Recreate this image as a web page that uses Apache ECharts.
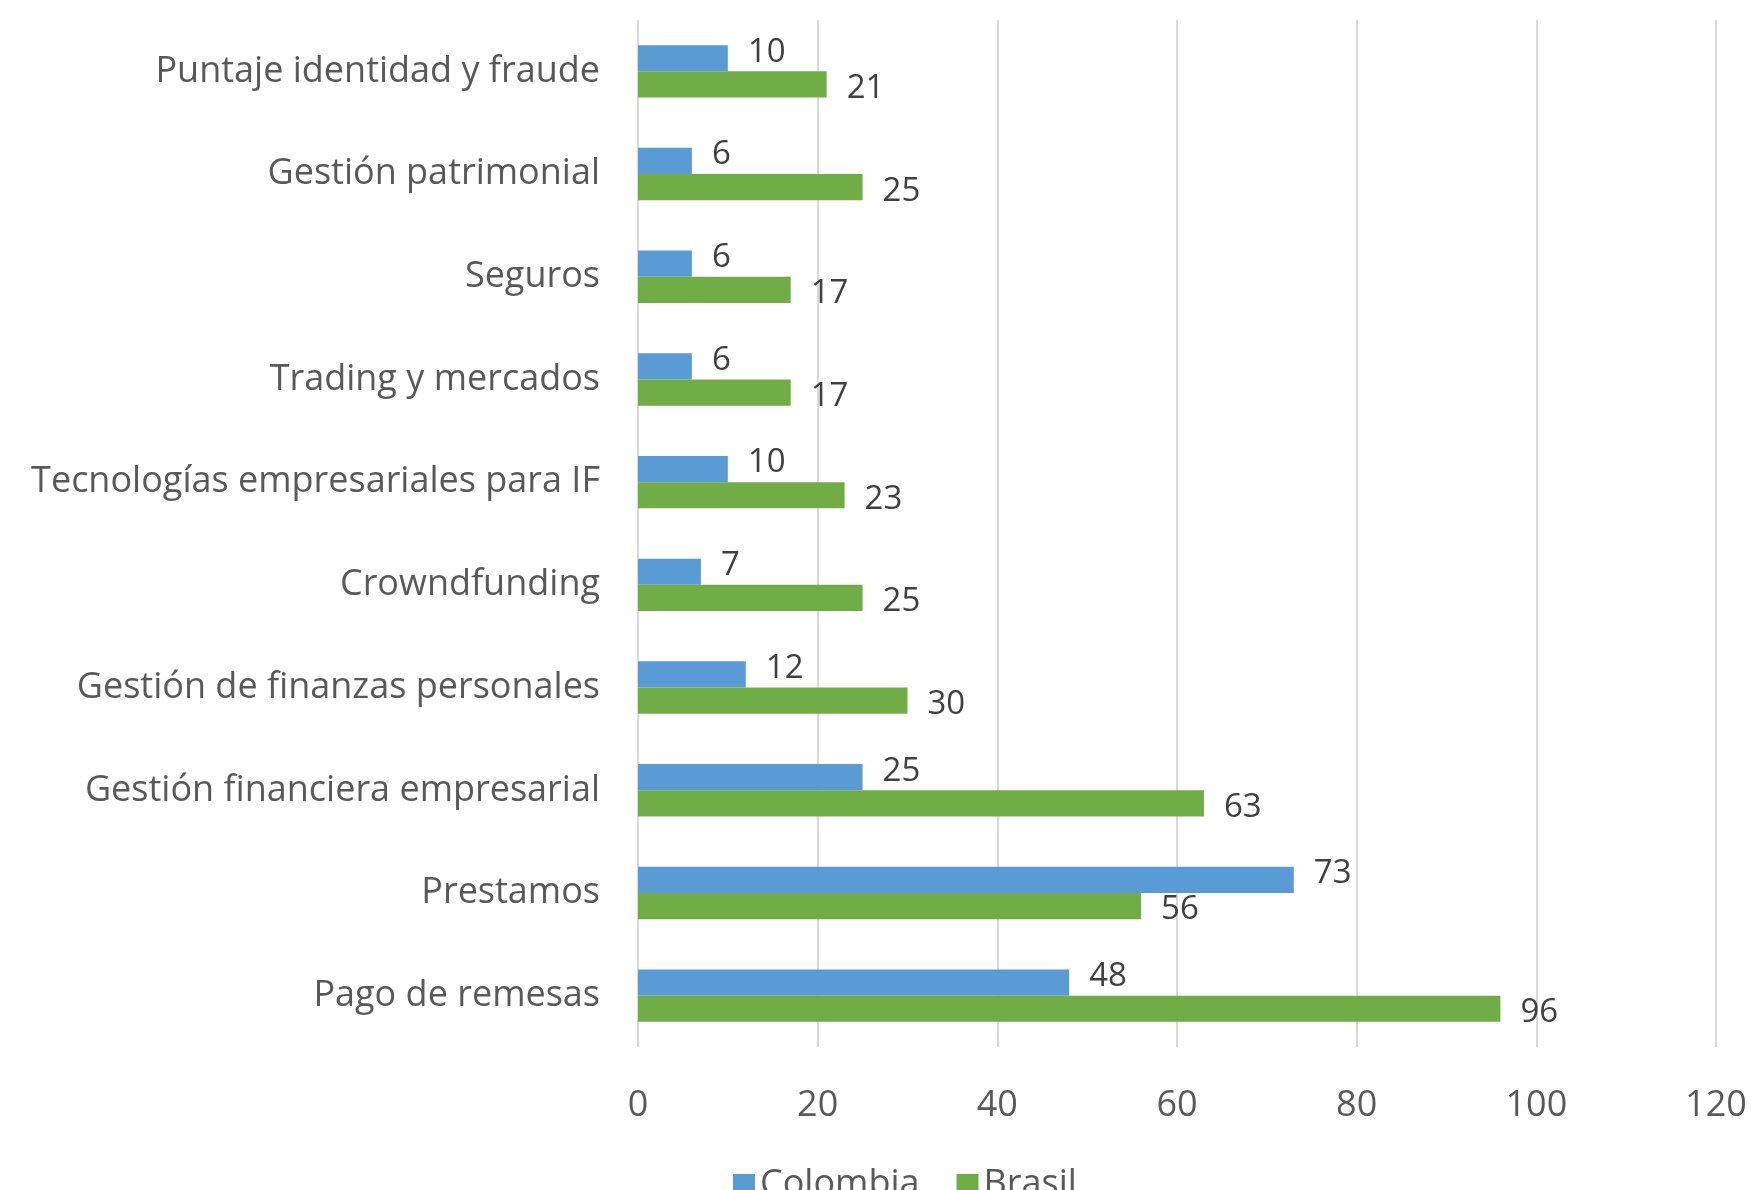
<!DOCTYPE html>
<html><head><meta charset="utf-8">
<script src="https://cdn.jsdelivr.net/npm/echarts@6/dist/echarts.min.js"></script>
<style>html,body{margin:0;padding:0;background:#fff}#c{width:1756px;height:1190px}</style>
</head><body><div id="c"></div>
<script>
const categories = ["Puntaje identidad y fraude","Gestión patrimonial","Seguros","Trading y mercados","Tecnologías empresariales para IF","Crowndfunding","Gestión de finanzas personales","Gestión financiera empresarial","Prestamos","Pago de remesas"];
const colombia = [10,6,6,6,10,7,12,25,73,48];
const brasil = [21,25,17,17,23,25,30,63,56,96];
const xTicks = [0,20,40,60,80,100,120];
const FONT = "'Open Sans', sans-serif";
const chart = echarts.init(document.getElementById('c'));
chart.setOption({
  animation:false,
  textStyle:{fontFamily:FONT},
  grid:{left:638,right:40,top:20,bottom:143,containLabel:false},
  legend:{bottom:-18,left:728,itemWidth:22,itemHeight:22,itemGap:37,icon:'rect',
    textStyle:{fontSize:36,color:'#595959',fontFamily:FONT},data:['Colombia','Brasil']},
  xAxis:{type:'value',min:0,max:120,interval:20,
    axisLine:{show:false},axisTick:{show:false},
    splitLine:{show:true,lineStyle:{color:'#d9d9d9',width:2}},
    axisLabel:{fontSize:36,color:'#595959',margin:41,fontFamily:FONT,
      formatter:v=>xTicks.includes(v)?String(v):''}},
  yAxis:{type:'category',data:categories,inverse:true,
    axisLine:{show:false},axisTick:{show:false},
    axisLabel:{fontSize:36,color:'#595959',margin:38,fontFamily:FONT,padding:[4,0,0,0]}},
  series:[
    {name:'Colombia',type:'bar',data:colombia,barGap:'0%',barCategoryGap:'49%',
      itemStyle:{color:'#5B9BD5'},
      label:{show:true,position:'right',distance:20,offset:[0,-6],fontSize:33,color:'#404040',fontFamily:FONT}},
    {name:'Brasil',type:'bar',data:brasil,barGap:'0%',barCategoryGap:'49%',
      itemStyle:{color:'#70AD47'},
      label:{show:true,position:'right',distance:20,offset:[0,4],fontSize:33,color:'#404040',fontFamily:FONT}}
  ]
});
</script></body></html>
